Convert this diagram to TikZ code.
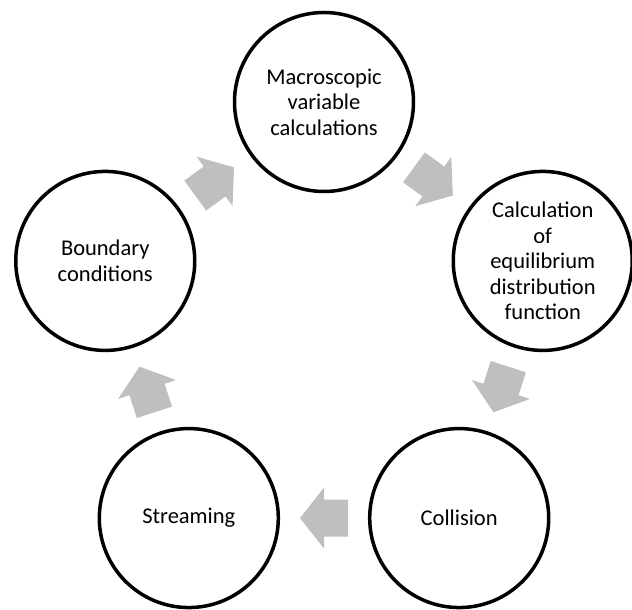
\documentclass[tikz,border=0pt]{standalone}
\usepackage{fontspec}
\setmainfont{Carlito}
\usetikzlibrary{calc}
\definecolor{arrowgray}{HTML}{BFBFBF}
\tikzset{
  stage/.style={circle, draw=black, line width=3.5pt, minimum size=179pt, inner sep=0pt,
    align=center, font=\fontsize{22.5}{25.5}\selectfont, fill=white},
  blockarrow/.style={fill=arrowgray, draw=none}
}
\newcommand\flowarrow[3]{%
  \coordinate (#3) at ($(#1)!0.5!(#2)$);
  \path let \p1=($(#2)-(#1)$), \n1={atan2(\y1,\x1)} in
    [blockarrow] [shift={(#3)}, rotate=\n1]
    (-24,-18.5) -- (0,-18.5) -- (0,-30.5) -- (24,0) -- (0,30.5) -- (0,18.5) -- (-24,18.5) -- cycle;
}
\begin{document}
\begin{tikzpicture}[x=1pt,y=1pt]
\useasboundingbox (0,0) rectangle (632,610);
\coordinate (c) at (324,278);
\node[stage] (macro) at ($(c)+(90:230)$) {Macroscopic\\variable\\calculations};
\node[stage] (equil) at ($(c)+(18:230)$) {Calculation\\of\\equilibrium\\distribution\\function};
\node[stage] (coll) at ($(c)+(-54:230)$) {Collision};
\node[stage] (stream) at ($(c)+(-126:230)$) {Streaming};
\node[stage] (bound) at ($(c)+(162:230)$) {Boundary\\conditions};
\flowarrow{macro}{equil}{m1}
\flowarrow{equil}{coll}{m2}
\flowarrow{coll}{stream}{m3}
\flowarrow{stream}{bound}{m4}
\flowarrow{bound}{macro}{m5}
\end{tikzpicture}
\end{document}
